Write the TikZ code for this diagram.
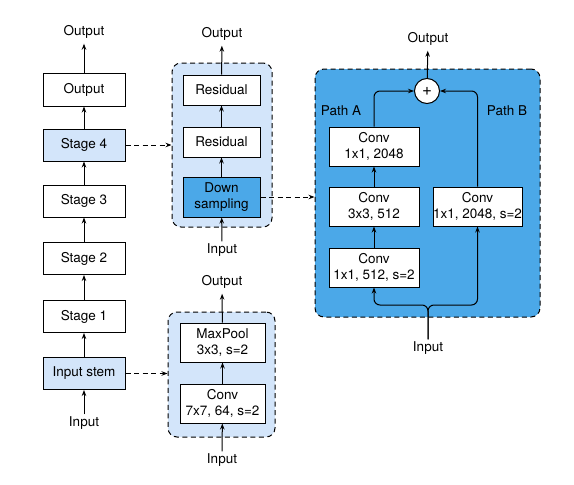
\documentclass[tikz,border=0pt]{standalone}
\usepackage{fontspec}
\setmainfont{TeX Gyre Heros}
\usetikzlibrary{arrows.meta}
\definecolor{lightbl}{HTML}{D3E5FA}
\definecolor{darkbl}{HTML}{4BA8E8}
\tikzset{
  box/.style={draw, fill=white, line width=1pt, align=center, inner sep=0pt, font=\fontsize{13.5}{16}\selectfont},
  lbl/.style={inner sep=2pt, font=\fontsize{13.5}{16}\selectfont},
  arr/.style={line width=1pt, -{Stealth[length=6pt,width=4.5pt]}},
  darr/.style={line width=1pt, dashed, dash pattern=on 5pt off 3.5pt, -{Stealth[length=6pt,width=4.5pt]}},
  container/.style={draw, dashed, dash pattern=on 5pt off 3.5pt, line width=1pt, rounded corners=9pt, inner sep=0pt},
}
\begin{document}
\begin{tikzpicture}[x=1pt,y=-1pt]
\useasboundingbox (0,0) rectangle (574,485);
% containers
\node[container, fill=lightbl, minimum width=100pt, minimum height=164pt] (c1) at (222,145) {};
\node[container, fill=lightbl, minimum width=107pt, minimum height=125pt] (c2) at (221.5,374.5) {};
\node[container, fill=darkbl, minimum width=225pt, minimum height=248pt] (c3) at (427.5,193) {};
% left column
\node[box, minimum width=82pt, minimum height=33pt] (lout) at (84,89.5) {Output};
\node[box, fill=lightbl, minimum width=82pt, minimum height=32pt] (ls4) at (84,145) {Stage 4};
\node[box, minimum width=82pt, minimum height=32pt] (ls3) at (84,201) {Stage 3};
\node[box, minimum width=82pt, minimum height=32pt] (ls2) at (84,258.5) {Stage 2};
\node[box, minimum width=82pt, minimum height=32pt] (ls1) at (84,316.5) {Stage 1};
\node[box, fill=lightbl, minimum width=82pt, minimum height=32pt] (lstem) at (84,373.5) {Input stem};
\node[lbl] (lOut) at (84,32) {Output};
\node[lbl] (lIn) at (84,423) {Input};
\draw[arr] (lIn) -- (lstem);
\draw[arr] (lstem) -- (ls1);
\draw[arr] (ls1) -- (ls2);
\draw[arr] (ls2) -- (ls3);
\draw[arr] (ls3) -- (ls4);
\draw[arr] (ls4) -- (lout);
\draw[arr, shorten >=3pt] (lout) -- (lOut);
% stage 4 detail
\node[box, minimum width=77pt, minimum height=30pt] (r2) at (221.5,90) {Residual};
\node[box, minimum width=77pt, minimum height=30pt] (r1) at (221.5,142) {Residual};
\node[box, fill=darkbl, minimum width=77pt, minimum height=40pt] (ds) at (221.5,197) {Down\\sampling};
\node[lbl] (c1Out) at (222,34) {Output};
\node[lbl] (c1In) at (222,250) {Input};
\draw[arr] (c1In) -- (ds);
\draw[arr] (ds) -- (r1);
\draw[arr] (r1) -- (r2);
\draw[arr, shorten >=3pt] (r2) -- (c1Out);
\draw[darr] (ls4.east) -- (ls4.east -| c1.west);
\draw[darr] (ds.east) -- (ds.east -| c3.west);
% stem detail
\node[box, minimum width=85pt, minimum height=39pt] (mp) at (222.5,342.5) {MaxPool\\3x3, s=2};
\node[box, minimum width=85pt, minimum height=39pt] (cv7) at (222.5,403.5) {Conv\\7x7, 64, s=2};
\node[lbl] (c2Out) at (222,282) {Output};
\node[lbl] (c2In) at (222,460) {Input};
\draw[arr] (c2In) -- (cv7);
\draw[arr] (cv7) -- (mp);
\draw[arr, shorten >=3pt] (mp) -- (c2Out);
\draw[darr] (lstem.east) -- (lstem.east -| c2.west);
% downsampling detail
\node[draw, fill=white, circle, line width=1pt, minimum size=25pt, inner sep=0pt, font=\fontsize{17}{17}\selectfont] (plus) at (427,91) {+};
\node[lbl] (c3Out) at (428,39) {Output};
\node[lbl] (pA) at (341,111) {Path A};
\node[lbl] (pB) at (507,111) {Path B};
\node[box, minimum width=90pt, minimum height=39pt] (ca3) at (374,146.5) {Conv\\1x1, 2048};
\node[box, minimum width=90pt, minimum height=39pt] (ca2) at (374,206.5) {Conv\\3x3, 512};
\node[box, minimum width=90pt, minimum height=39pt] (ca1) at (374,267.5) {Conv\\1x1, 512, s=2};
\node[box, minimum width=89pt, minimum height=39pt] (cb) at (477.5,206.5) {Conv\\1x1, 2048, s=2};
\node[lbl] (c3In) at (428,348) {Input};
\coordinate (split) at (428,305);
\draw[arr, shorten >=3pt] (plus) -- (c3Out);
\draw[arr] (ca1) -- (ca2);
\draw[arr] (ca2) -- (ca3);
\draw[arr, rounded corners=6pt] (ca3.north) |- (plus.west);
\draw[arr, rounded corners=6pt] (cb.north) |- (plus.east);
\draw[arr, rounded corners=6pt] (c3In.north) -- (split) -| (ca1.south);
\draw[arr, rounded corners=6pt] (c3In.north) -- (split) -| (cb.south);
\end{tikzpicture}
\end{document}
